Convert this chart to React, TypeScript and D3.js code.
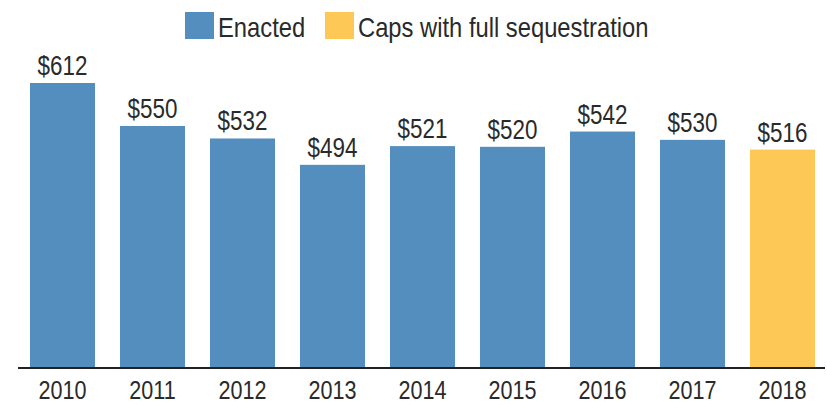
import React from "react";
import * as d3 from "d3";

const years = ["2010", "2011", "2012", "2013", "2014", "2015", "2016", "2017", "2018"];
const values = [612, 550, 532, 494, 521, 520, 542, 530, 516];
const series = ["Enacted", "Enacted", "Enacted", "Enacted", "Enacted", "Enacted", "Enacted", "Enacted", "Caps with full sequestration"];
const legendLabels = ["Enacted", "Caps with full sequestration"];
const colors: Record<string, string> = {
  "Enacted": "#538ebf",
  "Caps with full sequestration": "#fec857",
};

const W = 827;
const H = 405;
const FONT = "'Liberation Sans', Arial, sans-serif";
const TEXT = "#2a2a2a";
const NUM_SX = 0.83;
const LEG_SX = 0.88;

export default function App() {
  const baseline = 368;
  const x = d3
    .scaleBand<string>()
    .domain(years)
    .range([17.5, 827.5])
    .paddingInner(25 / 90)
    .paddingOuter(12.5 / 90);
  const y = d3.scaleLinear().domain([201, 612]).range([baseline, 83]);

  const legendX = [185, 325];
  return (
    <svg
      width={W}
      height={H}
      style={{ position: "absolute", left: 0, top: 0, background: "#fff" }}
      fontFamily={FONT}
    >
      {legendLabels.map((l, i) => (
        <g key={l} transform={`translate(${legendX[i]},12)`}>
          <rect width={29} height={27} fill={colors[l]} />
          <text
            transform={`translate(33,25) scale(${LEG_SX},1)`}
            fontSize={27}
            fill={TEXT}
          >
            {l}
          </text>
        </g>
      ))}
      {years.map((yr, i) => {
        const cx = x(yr)! + x.bandwidth() / 2;
        return (
          <g key={yr}>
            <rect
              x={x(yr)!}
              y={y(values[i])}
              width={x.bandwidth()}
              height={baseline - y(values[i])}
              fill={colors[series[i]]}
            />
            <text
              transform={`translate(${cx},${y(values[i]) - 8}) scale(${NUM_SX},1)`}
              textAnchor="middle"
              fontSize={27}
              fill={TEXT}
            >
              {`$${values[i]}`}
            </text>
            <text
              transform={`translate(${cx},399) scale(${NUM_SX},1)`}
              textAnchor="middle"
              fontSize={26}
              fill={TEXT}
            >
              {yr}
            </text>
          </g>
        );
      })}
      <line x1={18} x2={825} y1={baseline} y2={baseline} stroke="#222" strokeWidth={2} />
    </svg>
  );
}
